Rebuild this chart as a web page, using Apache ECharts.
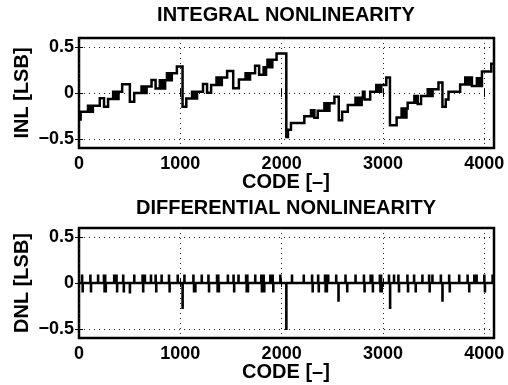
<!DOCTYPE html>
<html>
<head>
<meta charset="utf-8">
<script src="https://cdn.jsdelivr.net/npm/echarts@6/dist/echarts.min.js"></script>
<style>
  html, body { margin: 0; padding: 0; background: #fff; }
  #chart { width: 508px; height: 385px; }
</style>
</head>
<body>
<div id="chart"></div>
<script>
// ADC static linearity of a 12-bit converter: INL staircase and DNL spikes.

// Tick positions
const codeTicks = [0, 1000, 2000, 3000, 4000];
const lsbTicks = [-0.5, 0, 0.5];
const codeMax = 4096;

// INL: [code, level] breakpoints, level holds until the next breakpoint
const inlSeg1 = [
  [0, -0.29], [16, -0.205],
  [89, -0.14], [101, -0.205], [113, -0.14], [125, -0.205], [137, -0.14],
  [205, -0.057], [247, -0.15], [287, -0.065],
  [337, 0.013], [350, -0.065], [363, 0.013], [376, -0.065], [390, 0.013],
  [426, 0.096], [502, -0.095], [545, 0.0],
  [617, 0.07], [630, 0.0], [643, 0.07], [656, 0.0], [667, 0.07],
  [716, 0.143], [756, 0.05],
  [798, 0.14], [811, 0.05], [824, 0.14], [837, 0.05], [850, 0.14],
  [868, 0.216], [880, 0.14], [892, 0.216], [904, 0.14], [916, 0.216],
  [966, 0.29]
];
const inlSeg2 = [
  [1022, -0.15], [1059, -0.059],
  [1116, 0.015], [1128, -0.059], [1140, 0.015], [1152, -0.059], [1165, 0.015],
  [1224, 0.098], [1264, 0.004], [1304, 0.088],
  [1357, 0.168], [1370, 0.088], [1383, 0.168], [1396, 0.088], [1410, 0.168],
  [1462, 0.24], [1522, 0.051], [1578, 0.146],
  [1644, 0.216], [1655, 0.146], [1666, 0.216], [1677, 0.146], [1688, 0.216],
  [1738, 0.297], [1778, 0.2],
  [1822, 0.28], [1834, 0.2], [1846, 0.28],
  [1860, 0.363], [1872, 0.28], [1884, 0.363], [1896, 0.28], [1908, 0.363],
  [1950, 0.43]
];
const inlSeg3 = [
  [2046, -0.48], [2062, -0.40], [2092, -0.326], [2224, -0.253],
  [2290, -0.187], [2301, -0.253], [2312, -0.187], [2323, -0.27],
  [2356, -0.194],
  [2422, -0.113], [2434, -0.194], [2446, -0.113], [2458, -0.194], [2472, -0.113],
  [2521, -0.04], [2564, -0.297], [2597, -0.205], [2653, -0.132],
  [2729, -0.052], [2745, -0.132], [2760, -0.052], [2775, -0.132], [2790, -0.052],
  [2802, 0.013], [2818, -0.07], [2874, 0.013],
  [2934, 0.088], [2946, 0.013], [2958, 0.088], [2970, 0.013], [2983, 0.088],
  [3033, 0.17]
];
const inlSeg4 = [
  [3069, -0.352], [3135, -0.268],
  [3184, -0.17], [3196, -0.268], [3208, -0.17], [3220, -0.268], [3232, -0.17],
  [3244, -0.106],
  [3310, -0.033], [3320, -0.106], [3332, -0.033], [3343, -0.12],
  [3376, -0.033],
  [3442, 0.04], [3454, -0.033], [3466, 0.04], [3478, -0.033], [3490, 0.04],
  [3548, 0.114], [3587, -0.15], [3620, -0.07], [3647, 0.013], [3762, 0.093],
  [3812, 0.168], [3824, 0.093], [3836, 0.168], [3848, 0.093], [3861, 0.168],
  [3878, 0.077],
  [3927, 0.16], [3939, 0.077], [3951, 0.16], [3963, 0.077],
  [3977, 0.234], [4069, 0.319], [4095, 0.319]
];

// DNL: [code, value] of every non-zero code; all other codes are 0
const dnlSpikes = [
  [30, 0.08], [36, -0.09], [112, 0.08], [118, -0.09], [188, 0.08],
  [246, 0.08], [252, -0.09], [258, 0.08], [264, -0.09],
  [347, 0.08], [370, 0.08], [376, -0.09], [436, 0.08], [442, -0.09],
  [502, -0.1], [545, 0.08], [627, 0.08], [633, -0.09], [650, 0.08],
  [710, 0.08], [756, 0.08], [762, -0.09], [815, 0.08], [888, 0.08], [894, -0.09],
  [974, 0.08], [1022, -0.27], [1040, 0.08], [1129, 0.08], [1135, -0.09],
  [1148, -0.09], [1211, 0.08], [1277, 0.08], [1283, -0.09],
  [1362, 0.08], [1368, -0.09], [1374, 0.08], [1380, -0.09],
  [1469, 0.08], [1525, 0.08], [1531, -0.09], [1574, 0.08],
  [1649, 0.08], [1655, -0.09], [1661, 0.08], [1667, -0.09],
  [1739, 0.08], [1799, 0.08], [1805, -0.09], [1822, 0.08], [1828, -0.09],
  [1888, 0.08], [1911, 0.08], [1917, -0.09], [1987, 0.08],
  [2046, -0.5], [2102, 0.08], [2218, 0.08], [2300, 0.08], [2306, -0.09],
  [2360, 0.08], [2366, -0.09], [2428, 0.08], [2434, -0.09], [2440, 0.08], [2446, -0.09],
  [2459, 0.08], [2538, 0.08], [2561, -0.19], [2630, 0.08], [2647, -0.09],
  [2729, 0.08], [2812, 0.08], [2818, -0.09], [2878, 0.08], [2894, 0.08], [2900, -0.09],
  [2969, 0.08], [2975, -0.09], [2981, 0.08], [2987, -0.09],
  [3059, 0.08], [3070, -0.27], [3109, 0.08], [3152, 0.08], [3158, -0.09],
  [3241, 0.08], [3247, -0.09], [3307, 0.08], [3323, -0.09], [3389, 0.08],
  [3455, 0.08], [3461, -0.09], [3488, 0.08], [3571, 0.08], [3587, -0.19],
  [3653, 0.08], [3659, -0.09], [3752, 0.08], [3835, 0.08], [3851, -0.09],
  [3901, 0.08], [3924, 0.08], [4000, 0.08], [4006, -0.09], [4082, 0.08]
];

// ---- build series data ----
const inlData = [].concat(inlSeg1, inlSeg2, inlSeg3, inlSeg4);

// each non-zero DNL code returns to zero on the following code
const dnlData = [[0, 0]];
dnlSpikes.forEach(function (p) {
  dnlData.push([p[0], p[1]]);
  dnlData.push([p[0] + 1, 0]);
});
dnlData.push([4095, 0]);

const FONT = '"Liberation Sans", Arial, Helvetica, sans-serif';
const fmtLsb = function (v) {
  if (v === 0) return '0';
  return (v < 0 ? '\u2212' : '') + Math.abs(v);
};
const fmtCode = function (v) { return String(v); };

const dotted = { color: '#222', width: 1, type: [1, 4] };
const tickStyle = { color: '#000', width: 1 };
const labelStyle = { color: '#000', fontFamily: FONT, fontWeight: 'bold', fontSize: 18 };

function codeAxis(gridIndex, top) {
  return {
    type: 'value', gridIndex: gridIndex, min: 0, max: codeMax,
    position: top ? 'top' : 'bottom',
    axisLine: { show: false },
    axisTick: { show: true, inside: true, length: 4, lineStyle: tickStyle, customValues: codeTicks },
    axisLabel: top ? { show: false } : Object.assign({ margin: 7, customValues: codeTicks, formatter: fmtCode }, labelStyle),
    splitLine: { show: !top, lineStyle: dotted }
  };
}
function lsbAxis(gridIndex, right) {
  return {
    type: 'value', gridIndex: gridIndex, min: -0.6, max: 0.6,
    position: right ? 'right' : 'left',
    axisLine: { show: false },
    axisTick: { show: true, inside: true, length: 4, lineStyle: tickStyle, customValues: lsbTicks },
    axisLabel: right ? { show: false } : Object.assign({ margin: 5, customValues: lsbTicks, formatter: fmtLsb }, labelStyle),
    splitLine: { show: !right, lineStyle: dotted }
  };
}

// Sample-and-hold trace: each level holds until the next code, then a vertical jump.
function stepTrace(points) {
  return function (params, api) {
    const pts = [];
    for (let i = 0; i < points.length; i++) {
      const p = points[i];
      if (i > 0) pts.push(api.coord([p[0], points[i - 1][1]]));
      pts.push(api.coord([p[0], p[1]]));
    }
    return {
      type: 'polyline',
      shape: { points: pts },
      style: { stroke: '#000', lineWidth: 2.5, fill: null, lineJoin: 'miter', lineCap: 'butt' },
      silent: true
    };
  };
}

const gridBox = { show: true, borderColor: '#000', borderWidth: 2.5, backgroundColor: 'transparent' };

function txt(text, x, y, size, rot) {
  return {
    type: 'text', x: x, y: y, rotation: rot || 0, z: 10,
    style: {
      text: text, fill: '#000', font: 'bold ' + size + 'px ' + FONT,
      textAlign: 'center', textVerticalAlign: 'middle'
    }
  };
}

const chart = echarts.init(document.getElementById('chart'), null, { renderer: 'canvas' });
chart.setOption({
  animation: false,
  backgroundColor: '#fff',
  grid: [
    Object.assign({ left: 79, top: 38, width: 415, height: 110 }, gridBox),
    Object.assign({ left: 79, top: 228, width: 415, height: 110 }, gridBox)
  ],
  xAxis: [codeAxis(0, false), codeAxis(1, false), codeAxis(0, true), codeAxis(1, true)],
  yAxis: [lsbAxis(0, false), lsbAxis(1, false), lsbAxis(0, true), lsbAxis(1, true)],
  series: [
    {
      name: 'INL', type: 'custom', xAxisIndex: 0, yAxisIndex: 0,
      data: [[0, 0]], renderItem: stepTrace(inlData), z: 5
    },
    {
      name: 'DNL', type: 'custom', xAxisIndex: 1, yAxisIndex: 1,
      data: [[0, 0]], renderItem: stepTrace(dnlData), z: 5
    }
  ],
  graphic: [
    txt('INTEGRAL NONLINEARITY', 286, 15, 20),
    txt('CODE [\u2013]', 286, 182, 20),
    txt('INL [LSB]', 22, 93, 20, Math.PI / 2),
    txt('DIFFERENTIAL NONLINEARITY', 286, 208, 20),
    txt('CODE [\u2013]', 286, 372, 20),
    txt('DNL [LSB]', 22, 283, 20, Math.PI / 2)
  ]
});
</script>
</body>
</html>
